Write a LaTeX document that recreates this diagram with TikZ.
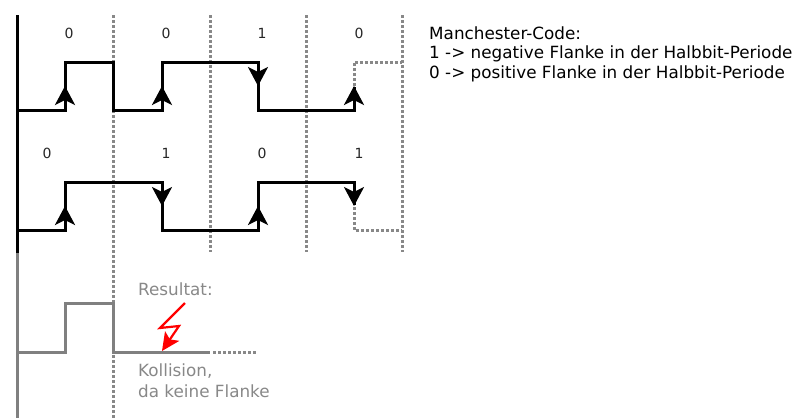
\documentclass[tikz,border=0pt]{standalone}
\usepackage{fontspec}
\setmainfont{DejaVu Sans}
\usetikzlibrary{arrows.meta}
\definecolor{dotgray}{HTML}{888888}
\definecolor{resgray}{HTML}{808080}
\definecolor{txtgray}{HTML}{888888}
\tikzset{
  sig/.style={line width=3pt, black, line join=miter},
  grid/.style={dotgray, line width=3pt, dash pattern=on 3pt off 2pt},
  flank/.style={sig, -{Stealth[length=19pt, width=20pt, inset=5pt]}},
  bitlabel/.style={font=\fontsize{14}{16}\selectfont, text=black!85, anchor=base, inner sep=0pt},
  note/.style={font=\fontsize{16.8}{20}\selectfont, anchor=base west, inner sep=0pt},
  result/.style={resgray, line width=3pt},
}
\begin{document}
\begin{tikzpicture}[x=1pt, y=-1pt]
\useasboundingbox (0,0) rectangle (802,418);

% bit period boundaries
\draw[grid] (113,15) -- (113,418);
\foreach \xx in {210,306,402} \draw[grid] (\xx,15) -- (\xx,252);

% time axis
\draw[line width=3pt, black] (17,15) -- (17,253);
\draw[line width=3pt, resgray] (17,253) -- (17,418);

% first station: 0 0 1 0
\node[bitlabel] (a1) at (69,38) {0};
\node[bitlabel] (a2) at (166,38) {0};
\node[bitlabel] (a3) at (262,38) {1};
\node[bitlabel] (a4) at (359,38) {0};
\draw[sig] (17,110) -- (65,110) -- (65,62) -- (113,62) -- (113,110) -- (162,110) -- (162,62)
  -- (258,62) -- (258,110) -- (354,110) -- (354,87);
\draw[flank] (65,110) -- (65,86);
\draw[flank] (162,110) -- (162,86);
\draw[flank] (258,62) -- (258,86);
\draw[flank] (354,110) -- (354,86);
\draw[grid] (354,86) -- (354,62) -- (402,62);

% second station: 0 1 0 1
\node[bitlabel] (b1) at (47,158) {0};
\node[bitlabel] (b2) at (166,158) {1};
\node[bitlabel] (b3) at (262,158) {0};
\node[bitlabel] (b4) at (359,158) {1};
\draw[sig] (17,230) -- (65,230) -- (65,182) -- (162,182) -- (162,230) -- (258,230) -- (258,182)
  -- (354,182) -- (354,205);
\draw[flank] (65,230) -- (65,206);
\draw[flank] (162,182) -- (162,206);
\draw[flank] (258,230) -- (258,206);
\draw[flank] (354,182) -- (354,206);
\draw[grid] (354,207) -- (354,230) -- (402,230);

% superposition on the bus
\node[note, text=txtgray] (res) at (138,295) {Resultat:};
\draw[result] (17,352) -- (65,352) -- (65,303) -- (113,303) -- (113,352) -- (210,352);
\draw[grid] (213,352) -- (256,352);
\coordinate (hit) at (162,351);
\draw[red, line width=2.2pt, line join=miter, -{Stealth[length=18pt, width=17pt, inset=4pt]}]
  (185,303) -- (160,328) -- (179,326) -- (hit);
\node[note, text=txtgray] (kol1) at (138,376) {Kollision,};
\node[note, text=txtgray] (kol2) at (138,397) {da keine Flanke};

% legend
\node[note] (l1) at (429,39) {Manchester-Code:};
\node[note] (l2) at (429,58) {1 -> negative Flanke in der Halbbit-Periode};
\node[note] (l3) at (429,78) {0 -> positive Flanke in der Halbbit-Periode};
\end{tikzpicture}
\end{document}
